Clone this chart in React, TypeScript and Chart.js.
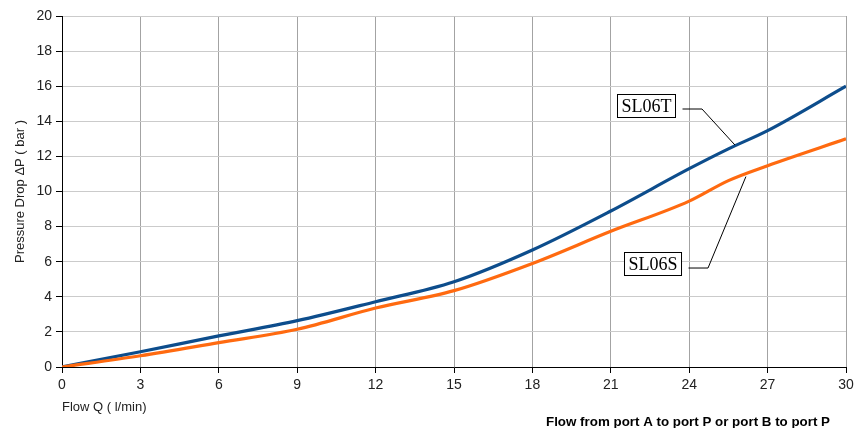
import React, { useEffect, useRef } from "react";
import { Chart, registerables } from "chart.js";
Chart.register(...registerables);

// Flow Q (l/min)
const flowQ = [0, 3, 6, 9, 12, 15, 18, 21, 24, 25.5, 27, 30];
// Pressure drop (bar)
const sl06T = [0, 0.87, 1.77, 2.64, 3.72, 4.86, 6.67, 8.89, 11.3, 12.43, 13.47, 16.0];
const sl06S = [0, 0.64, 1.39, 2.15, 3.36, 4.35, 5.9, 7.73, 9.45, 10.62, 11.47, 13.0];

const xTicks = [0, 3, 6, 9, 12, 15, 18, 21, 24, 27, 30];
const yTicks = [0, 2, 4, 6, 8, 10, 12, 14, 16, 18, 20];

const seriesNames = ["SL06T", "SL06S"];
const yTitle = "Pressure Drop ΔP ( bar )";
const xTitle = "Flow Q ( l/min)";
const footNote = "Flow from port A to port P or port B to port P";

// callouts in data coordinates: label centre, elbow, tip on curve
const callouts = [
  { text: seriesNames[0], label: [22.33, 14.9], elbow: [24.49, 14.7], tip: [25.75, 12.65] },
  { text: seriesNames[1], label: [22.61, 5.87], elbow: [24.72, 5.64], tip: [26.17, 10.85] },
];

const BLUE = "#0d4d8c";
const ORANGE = "#ff6a10";

const overlay = {
  id: "overlay",
  afterDraw(chart: any) {
    const { ctx, chartArea, scales } = chart;
    const xs = scales.x;
    const ys = scales.y;
    ctx.save();
    // y title
    ctx.fillStyle = "#222";
    ctx.font = "13px 'Liberation Sans', Arial, sans-serif";
    ctx.translate(20, (chartArea.top + chartArea.bottom) / 2);
    ctx.rotate(-Math.PI / 2);
    ctx.textAlign = "center";
    ctx.textBaseline = "middle";
    ctx.fillText(yTitle, 0, 0);
    ctx.restore();

    ctx.save();
    ctx.fillStyle = "#222";
    ctx.font = "13px 'Liberation Sans', Arial, sans-serif";
    ctx.textAlign = "left";
    ctx.textBaseline = "middle";
    ctx.fillText(xTitle, chartArea.left, 407);
    ctx.font = "bold 13.5px 'Liberation Sans', Arial, sans-serif";
    ctx.textAlign = "right";
    ctx.textBaseline = "alphabetic";
    ctx.fillStyle = "#000";
    ctx.fillText(footNote, 830, 426, 284);
    ctx.restore();

    // callouts
    ctx.save();
    ctx.font = "18px 'Liberation Serif', 'Times New Roman', serif";
    for (const c of callouts) {
      const cx = xs.getPixelForValue(c.label[0]);
      const cy = ys.getPixelForValue(c.label[1]);
      const w = ctx.measureText(c.text).width + 8;
      const h = 23;
      const bx = Math.round(cx - w / 2) + 0.5;
      const by = Math.round(cy - h / 2) + 0.5;
      ctx.fillStyle = "#fff";
      ctx.fillRect(bx, by, w, h);
      ctx.strokeStyle = "#000";
      ctx.lineWidth = 1;
      ctx.strokeRect(bx, by, w, h);
      ctx.fillStyle = "#000";
      ctx.textAlign = "center";
      ctx.textBaseline = "middle";
      ctx.fillText(c.text, bx + w / 2, by + h / 2 + 1);
      const ex = xs.getPixelForValue(c.elbow[0]);
      const ey = ys.getPixelForValue(c.elbow[1]);
      const tx = xs.getPixelForValue(c.tip[0]);
      const ty = ys.getPixelForValue(c.tip[1]);
      ctx.beginPath();
      ctx.moveTo(bx + w + 7, ey);
      ctx.lineTo(ex, ey);
      ctx.lineTo(tx, ty);
      ctx.strokeStyle = "#000";
      ctx.lineWidth = 1;
      ctx.stroke();
    }
    ctx.restore();
  },
};

export default function App() {
  const ref = useRef<HTMLCanvasElement | null>(null);
  useEffect(() => {
    if (!ref.current) return;
    const chart = new Chart(ref.current, {
      type: "line",
      data: {
        datasets: [
          {
            label: seriesNames[0],
            data: flowQ.map((x, i) => ({ x, y: sl06T[i] })),
            borderColor: BLUE,
            borderWidth: 3.2,
            pointRadius: 0,
            cubicInterpolationMode: "monotone",
            order: 2,
          },
          {
            label: seriesNames[1],
            data: flowQ.map((x, i) => ({ x, y: sl06S[i] })),
            borderColor: ORANGE,
            borderWidth: 3.2,
            pointRadius: 0,
            cubicInterpolationMode: "monotone",
            order: 1,
          },
        ],
      },
      options: {
        responsive: false,
        animation: false,
        layout: { padding: { left: 0, right: 12, top: 16, bottom: 0 } },
        plugins: { legend: { display: false }, tooltip: { enabled: false } },
        scales: {
          x: {
            type: "linear",
            min: 0,
            max: 30,
            afterBuildTicks: (s: any) => {
              s.ticks = xTicks.map((v) => ({ value: v }));
            },
            afterFit: (s: any) => {
              s.height = 61;
            },
            ticks: {
              color: "#222",
              font: { family: "'Liberation Sans', Arial, sans-serif", size: 14 },
              padding: 4,
              maxRotation: 0,
            },
            grid: { color: "#a3a3a3", tickColor: "#000", tickLength: 6, lineWidth: 1 },
            border: { color: "#000", width: 1 },
          },
          y: {
            type: "linear",
            min: 0,
            max: 20,
            afterBuildTicks: (s: any) => {
              s.ticks = yTicks.map((v) => ({ value: v }));
            },
            afterFit: (s: any) => {
              s.width = 62;
            },
            ticks: {
              color: "#222",
              font: { family: "'Liberation Sans', Arial, sans-serif", size: 14 },
              padding: 4,
            },
            grid: { color: "#cbcbcb", tickColor: "#000", tickLength: 6, lineWidth: 1 },
            border: { color: "#000", width: 1 },
          },
        },
      },
      plugins: [overlay],
    } as any);
    return () => chart.destroy();
  }, []);
  return (
    <div style={{ position: "fixed", left: 0, top: 0, width: 858, height: 428, background: "#fff" }}>
      <canvas ref={ref} width={858} height={428} style={{ display: "block" }} />
    </div>
  );
}
